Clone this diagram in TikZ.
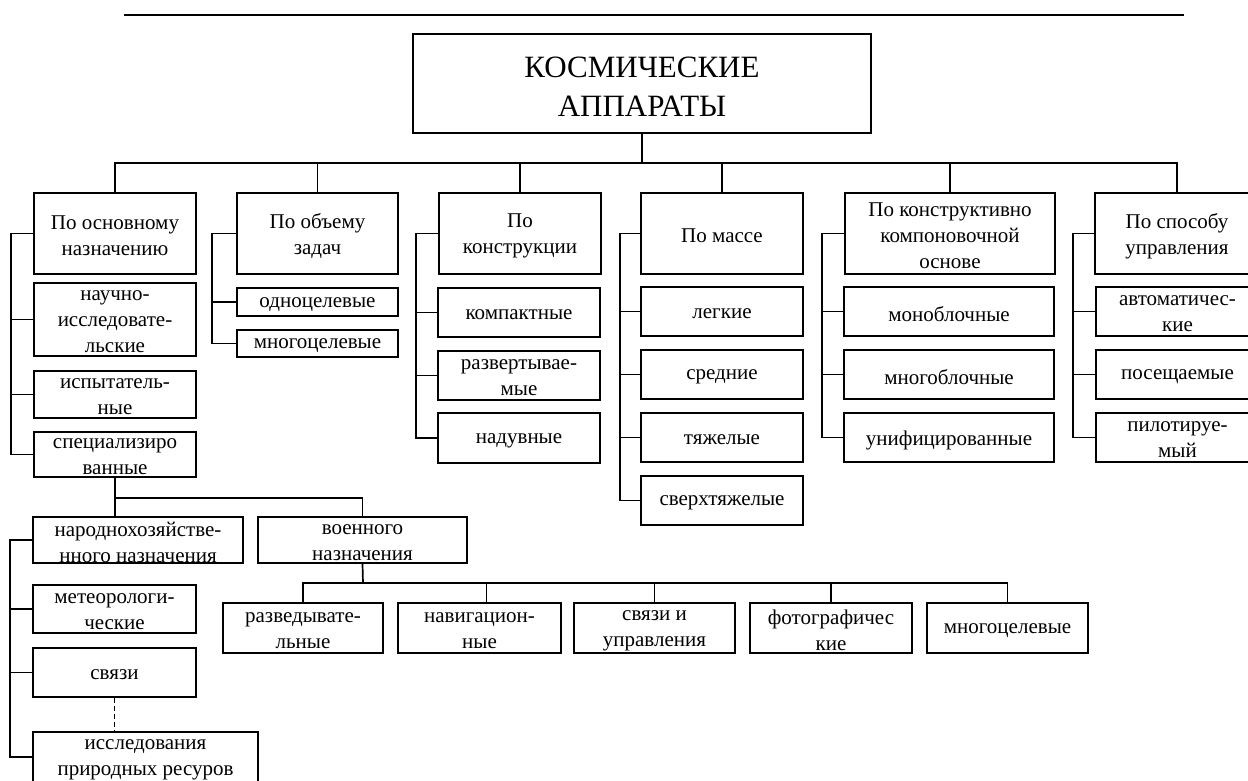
\documentclass[tikz,border=0pt]{standalone}
\usepackage{fontspec}
\setmainfont{Liberation Serif}
\newcommand\bxn[6]{\node[box, minimum width=#4pt, minimum height=#5pt, label={[txt]center:{#6}}] (#1) at (#2,#3) {};}
\begin{document}
\begin{tikzpicture}[x=1pt,y=-1pt,
  box/.style={draw, line width=1.7pt, inner sep=0pt},
  txt/.style={align=center, inner sep=0pt, yshift=-2.5pt, font=\fontsize{21}{26}\selectfont},
  ttltxt/.style={align=center, inner sep=0pt, yshift=-3pt, font=\fontsize{31}{39}\selectfont},
  conn/.style={line width=1.7pt}]
\useasboundingbox (0,0) rectangle (1248,780);
\draw[line width=1.7pt] (124,15) -- (1184,15);
% title
\node[box, minimum width=458pt, minimum height=99pt, label={[ttltxt]center:{КОСМИЧЕСКИЕ\\АППАРАТЫ}}] (title) at (642,83.5) {};
% headings
\bxn{h1}{115}{233.5}{162}{81}{По основному\\назначению}
\bxn{h2}{317.5}{233.5}{161}{81}{По объему\\задач}
\bxn{h3}{520}{233.5}{162}{81}{По\\конструкции}
\bxn{h4}{722}{233.5}{162}{81}{По массе}
\bxn{h5}{950}{233.5}{210}{81}{По конструктивно\\компоновочной\\основе}
\bxn{h6}{1177}{233.5}{164}{81}{По способу\\управления}
\coordinate (bus) at (642,163);
\draw[conn] (title.south) -- (bus);
\foreach \h in {h1,h2,h3,h4,h5,h6} \draw[conn] (\h.north) |- (bus);
% column 1
\bxn{c11}{115}{319.5}{162}{73}{научно-\\исследовате-\\льские}
\bxn{c12}{115}{394.5}{162}{47}{испытатель-\\ные}
\bxn{c13}{115}{454.5}{162}{45}{специализиро\\ванные}
\draw[conn] (h1.west) -| ([xshift=-22pt]c13.west) -- (c13.west);
\foreach \c in {c11,c12} \draw[conn] (\c.west) -- ++(-22,0);
% column 2
\bxn{c21}{317.5}{302}{161}{28}{одноцелевые}
\bxn{c22}{317.5}{343.5}{161}{27}{многоцелевые}
\draw[conn] (h2.west) -| ([xshift=-24pt]c22.west) -- (c22.west);
\draw[conn] (c21.west) -- ++(-24,0);
% column 3
\bxn{c31}{519}{312.5}{162}{49}{компактные}
\bxn{c32}{519}{375.5}{162}{49}{развертывае-\\мые}
\bxn{c33}{519}{438}{162}{50}{надувные}
\draw[conn] (h3.west) -| ([xshift=-21pt]c33.west) -- (c33.west);
\foreach \c in {c31,c32} \draw[conn] (\c.west) -- ++(-21,0);
% column 4
\bxn{c41}{722}{311.5}{162}{49}{легкие}
\bxn{c42}{722}{374.5}{162}{49}{средние}
\bxn{c43}{722}{437.5}{162}{49}{тяжелые}
\bxn{c44}{722}{500.5}{162}{49}{сверхтяжелые}
\draw[conn] (h4.west) -| ([xshift=-20pt]c44.west) -- (c44.west);
\foreach \c in {c41,c42,c43} \draw[conn] (\c.west) -- ++(-20,0);
% column 5
\bxn{c51}{949}{311.5}{210}{49}{моноблочные}
\bxn{c52}{949}{374.5}{210}{49}{многоблочные}
\bxn{c53}{949}{437.5}{210}{49}{унифицированные}
\draw[conn] (h5.west) -| ([xshift=-21pt]c53.west) -- (c53.west);
\foreach \c in {c51,c52} \draw[conn] (\c.west) -- ++(-21,0);
% column 6
\bxn{c61}{1177.5}{311.5}{163}{49}{автоматичес-\\кие}
\bxn{c62}{1177.5}{374.5}{163}{49}{посещаемые}
\bxn{c63}{1177.5}{437.5}{163}{49}{пилотируе-\\мый}
\draw[conn] (h6.west) -| ([xshift=-22pt]c63.west) -- (c63.west);
\foreach \c in {c61,c62} \draw[conn] (\c.west) -- ++(-22,0);
% lower part
\bxn{n1}{138}{540}{210}{46}{народнохозяйстве-\\нного назначения}
\bxn{n2}{362.5}{540}{209}{46}{военного\\назначения}
\coordinate (sb) at (115,498);
\draw[conn] (c13.south) -- (c13.south |- n1.north);
\draw[conn] (sb) -| (n2.north);
\bxn{m1}{114.5}{609}{163}{48}{метеорологи-\\ческие}
\bxn{m2}{114.5}{672.5}{163}{49}{связи}
\bxn{m3}{145.5}{757}{225}{50}{исследования\\природных ресуров}
\draw[conn] (n1.west) -| ([xshift=-22pt]m3.west) -- (m3.west);
\foreach \c in {m1,m2} \draw[conn] (\c.west) -- ++(-22,0);
\draw[conn, dash pattern=on 5pt off 3pt] (m2.south) -- (m2.south |- m3.north);
% military
\bxn{v1}{303}{628}{160}{50}{разведывате-\\льные}
\bxn{v2}{479.5}{628}{163}{50}{навигацион-\\ные}
\bxn{v3}{654.5}{628}{161}{50}{связи и\\управления}
\bxn{v4}{831}{628}{162}{50}{фотографичес\\кие}
\bxn{v5}{1007.5}{628}{161}{50}{многоцелевые}
\coordinate (mb) at (363,583);
\draw[conn] (n2.south) -- (mb);
\foreach \v in {v1,v3,v4,v5} \draw[conn] (\v.north) |- (mb);
\draw[conn] ([xshift=7pt]v2.north) |- (mb);
\end{tikzpicture}
\end{document}
